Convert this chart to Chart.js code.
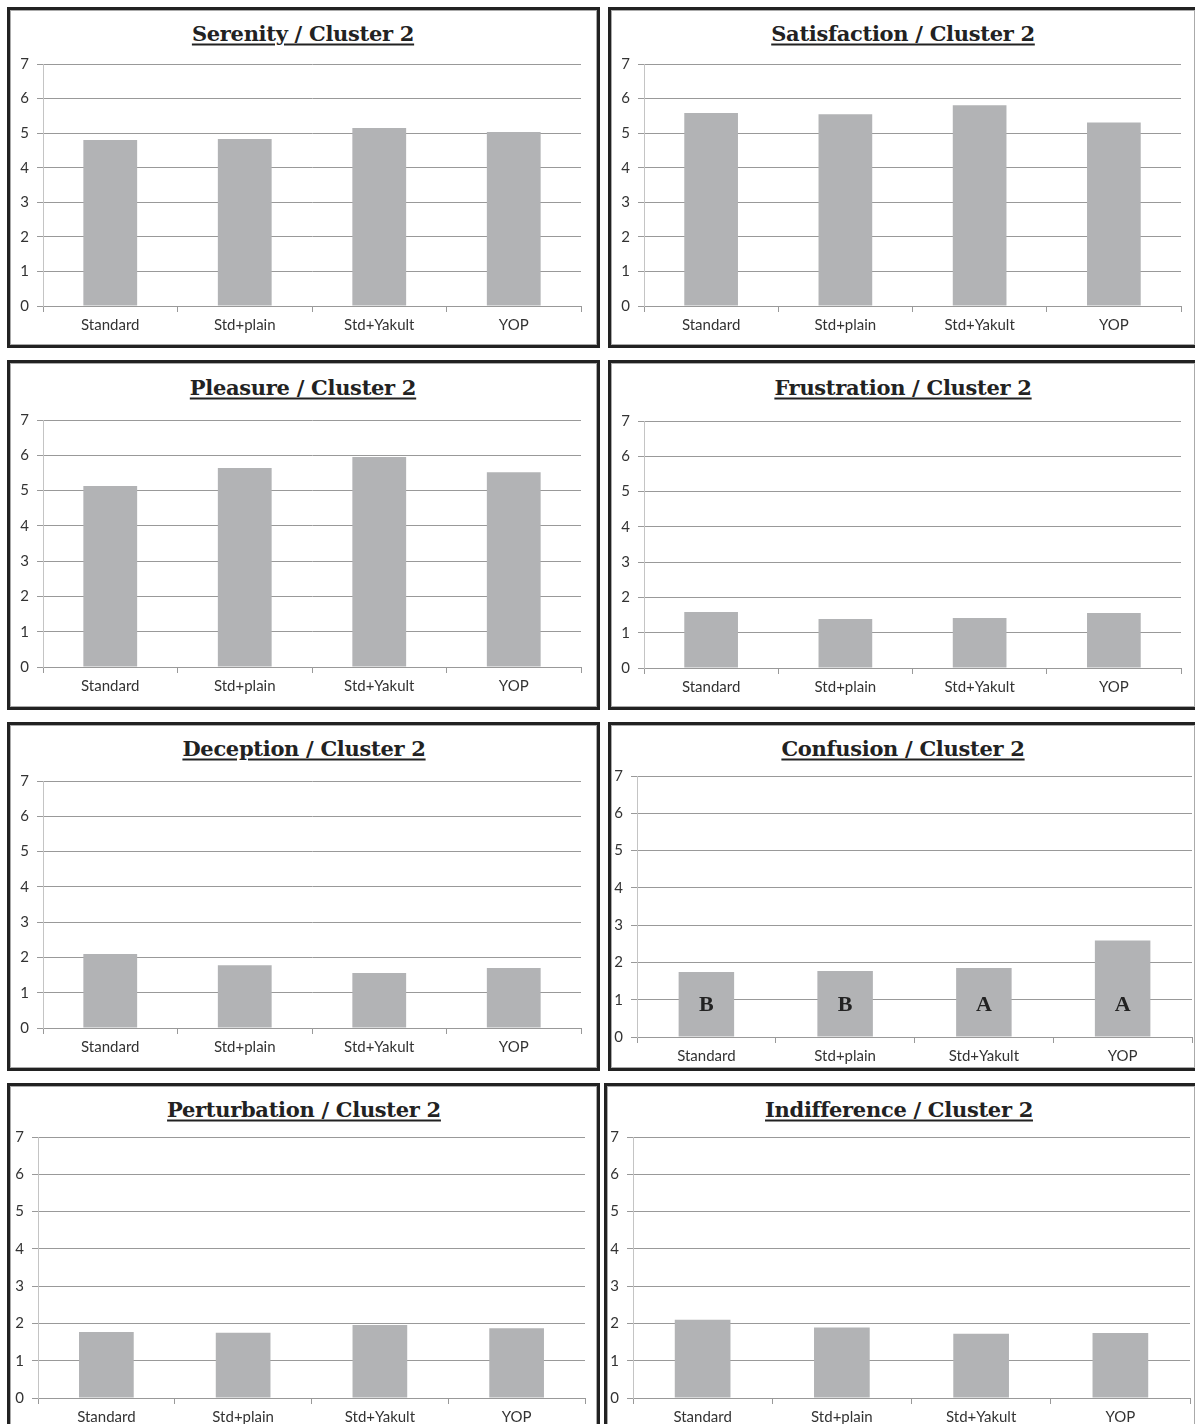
<!DOCTYPE html>
<html>
<head>
<meta charset="utf-8">
<title>Cluster 2</title>
<script src="https://cdn.jsdelivr.net/npm/chart.js@4.4.1/dist/chart.umd.min.js"></script>
<style>
  html, body {
    margin: 0;
    padding: 0;
    background: #fff;
    width: 1195px;
    height: 1424px;
    overflow: hidden;
  }
  .panel {
    position: absolute;
    box-sizing: border-box;
    border: 3px solid #222;
    box-shadow: inset 0 0 0 1px #aaa;
  }
  .title {
    position: absolute;
    transform: translate(-50%, -50%);
    white-space: nowrap;
    font-family: "DejaVu Serif", serif;
    font-weight: bold;
    font-size: 21px;
    letter-spacing: -0.3px;
    color: #222;
    text-decoration: underline;
    text-underline-offset: 3px;
  }
  canvas {
    position: absolute;
  }
</style>
</head>
<body>
<div id="root"></div>
<script>
// data
const categories = ["Standard", "Std+plain", "Std+Yakult", "YOP"];
const yTicks = [0, 1, 2, 3, 4, 5, 6, 7];

const serenity = [4.80, 4.83, 5.15, 5.03];
const satisfaction = [5.58, 5.55, 5.81, 5.31];
const pleasure = [5.13, 5.64, 5.95, 5.52];
const frustration = [1.59, 1.39, 1.42, 1.56];
const deception = [2.10, 1.78, 1.56, 1.70];
const confusion = [1.74, 1.77, 1.85, 2.59];
const perturbation = [1.77, 1.75, 1.96, 1.87];
const indifference = [2.10, 1.89, 1.72, 1.74];

const confusionLetters = ["B", "B", "A", "A"];
const letterLevel = 0.85;

const titles = [
  "Serenity / Cluster 2", "Satisfaction / Cluster 2",
  "Pleasure / Cluster 2", "Frustration / Cluster 2",
  "Deception / Cluster 2", "Confusion / Cluster 2",
  "Perturbation / Cluster 2", "Indifference / Cluster 2"
];
const series = [serenity, satisfaction, pleasure, frustration,
  deception, confusion, perturbation, indifference];

// page layout: box = panel frame, plot = chart area edges, tx/ty = title centre
const panels = [
  { box: [7, 7, 593, 341], plot: [43, 581, 64, 306], tx: 303, ty: 33 },
  { box: [608, 7, 590, 341], plot: [644, 1181, 64, 306], tx: 903, ty: 33 },
  { box: [7, 360, 593, 350], plot: [43, 581, 420, 667], tx: 303, ty: 387 },
  { box: [608, 360, 590, 350], plot: [644, 1181, 421, 668], tx: 903, ty: 387 },
  { box: [7, 722, 593, 349], plot: [43, 581, 781, 1028], tx: 304, ty: 748 },
  { box: [608, 722, 590, 349], plot: [637, 1192, 776, 1037], tx: 903, ty: 748 },
  { box: [7, 1083, 593, 360], plot: [38, 585, 1137, 1398], tx: 304, ty: 1109 },
  { box: [604, 1083, 594, 360], plot: [633, 1190, 1137, 1398], tx: 899, ty: 1109 }
];

const Y_AXIS_W = 36;
const X_AXIS_H = 34;
const PAD_TOP = 10;
const PAD_RIGHT = 4;

Chart.defaults.font.family = "Lato, 'Open Sans', sans-serif";
Chart.defaults.font.size = 15;
Chart.defaults.color = "#333";

// letters drawn inside the Confusion bars
const letterPlugin = {
  id: "letters",
  afterDatasetsDraw(chart, args, opts) {
    if (!opts.letters) return;
    const ctx = chart.ctx;
    const meta = chart.getDatasetMeta(0);
    const y = chart.scales.y.getPixelForValue(letterLevel);
    ctx.save();
    ctx.font = "bold 22px 'Liberation Serif', serif";
    ctx.fillStyle = "#222";
    ctx.textAlign = "center";
    ctx.textBaseline = "middle";
    opts.letters.forEach((l, i) => {
      ctx.fillText(l, meta.data[i].x, y);
    });
    ctx.restore();
  }
};

const root = document.getElementById("root");

panels.forEach((p, i) => {
  const frame = document.createElement("div");
  frame.className = "panel";
  frame.style.left = p.box[0] + "px";
  frame.style.top = p.box[1] + "px";
  frame.style.width = p.box[2] + "px";
  frame.style.height = p.box[3] + "px";
  root.appendChild(frame);

  const title = document.createElement("div");
  title.className = "title";
  title.style.left = p.tx + "px";
  title.style.top = p.ty + "px";
  title.innerText = titles[i];
  root.appendChild(title);

  const [axisX, right, top, bottom] = p.plot;
  const canvas = document.createElement("canvas");
  const left = axisX - Y_AXIS_W;
  const ctop = top - PAD_TOP;
  const w = right - left + PAD_RIGHT;
  const h = bottom + X_AXIS_H - ctop;
  canvas.style.left = left + "px";
  canvas.style.top = ctop + "px";
  canvas.style.width = w + "px";
  canvas.style.height = h + "px";
  canvas.width = w;
  canvas.height = h;
  root.appendChild(canvas);

  new Chart(canvas.getContext("2d"), {
    type: "bar",
    data: {
      labels: categories,
      datasets: [
        {
          data: series[i],
          backgroundColor: "#b2b3b5",
          borderWidth: 0,
          barPercentage: 0.4,
          categoryPercentage: 1
        }
      ]
    },
    plugins: [letterPlugin],
    options: {
      responsive: false,
      animation: false,
      layout: { padding: { top: PAD_TOP, right: PAD_RIGHT, left: 0, bottom: 0 } },
      plugins: {
        legend: { display: false },
        tooltip: { enabled: false },
        letters: { letters: i === 5 ? confusionLetters : null }
      },
      scales: {
        x: {
          afterFit(scale) {
            scale.height = X_AXIS_H;
            scale.paddingLeft = 0;
            scale.paddingRight = 0;
          },
          grid: {
            display: true,
            drawOnChartArea: false,
            drawTicks: true,
            tickLength: 6,
            color: "#999"
          },
          border: { display: true, color: "#999" },
          ticks: { padding: 4, color: "#333", maxRotation: 0 }
        },
        y: {
          min: 0,
          max: 7,
          afterFit(scale) {
            scale.width = Y_AXIS_W;
            scale.paddingTop = 0;
            scale.paddingBottom = 0;
          },
          afterBuildTicks(scale) {
            scale.ticks = yTicks.map(v => ({ value: v }));
          },
          grid: { color: "#999", tickLength: 6 },
          border: { display: true, color: "#c4c4c4" },
          ticks: { padding: 8, color: "#333" }
        }
      }
    }
  });
});
</script>
</body>
</html>
